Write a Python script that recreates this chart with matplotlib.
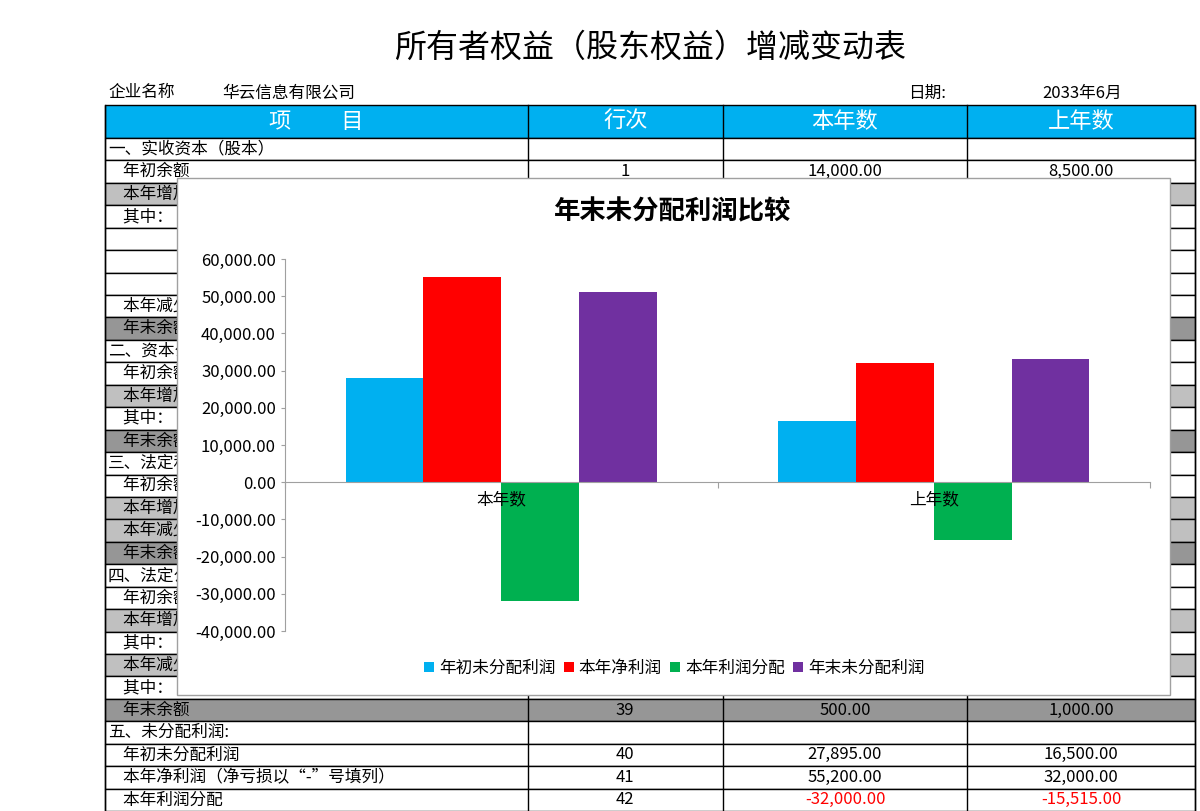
import numpy as np
import matplotlib.pyplot as plt
from matplotlib.patches import Rectangle

plt.rcParams['font.family'] = ['Noto Sans CJK SC', 'DejaVu Sans']

# chart data
categories = ['本年数', '上年数']
series_names = ['年初未分配利润', '本年净利润', '本年利润分配', '年末未分配利润']
series_values = [
    [27895, 16500],
    [55200, 32000],
    [-32000, -15515],
    [51095, 32985],
]
series_colors = ['#00B0F0', '#FF0000', '#00B050', '#7030A0']
yticks = [-40000, -30000, -20000, -10000, 0, 10000, 20000, 30000, 40000, 50000, 60000]

# table rows behind the chart: label, row no, this year, last year, fill
rows = [
    ('一、实收资本（股本）', '', '', '', 'w'),
    ('    年初余额', '1', '14,000.00', '8,500.00', 'w'),
    ('    本年增加额', '', '', '', 'l'),
    ('    其中：', '', '', '', 'w'),
    ('', '', '', '', 'w'),
    ('', '', '', '', 'w'),
    ('', '', '', '', 'w'),
    ('    本年减少额', '', '', '', 'w'),
    ('    年末余额', '', '', '', 'd'),
    ('二、资本公积', '', '', '', 'w'),
    ('    年初余额', '', '', '', 'w'),
    ('    本年增加额', '', '', '', 'l'),
    ('    其中：', '', '', '', 'w'),
    ('    年末余额', '', '', '', 'd'),
    ('三、法定和任意盈余公积', '', '', '', 'w'),
    ('    年初余额', '', '', '', 'w'),
    ('    本年增加额', '', '', '', 'l'),
    ('    本年减少额', '', '', '', 'l'),
    ('    年末余额', '', '', '', 'd'),
    ('四、法定公益金', '', '', '', 'w'),
    ('    年初余额', '', '', '', 'w'),
    ('    本年增加额', '', '', '', 'l'),
    ('    其中：', '', '', '', 'w'),
    ('    本年减少额', '', '', '', 'l'),
    ('    其中：', '', '', '', 'w'),
    ('    年末余额', '39', '500.00', '1,000.00', 'd'),
    ('五、未分配利润:', '', '', '', 'w'),
    ('    年初未分配利润', '40', '27,895.00', '16,500.00', 'w'),
    ('    本年净利润（净亏损以“-”号填列）', '41', '55,200.00', '32,000.00', 'w'),
    ('    本年利润分配', '42', '-32,000.00', '-15,515.00', 'w'),
]
fills = {'w': 'white', 'l': '#C0C0C0', 'd': '#969696'}

fig = plt.figure(figsize=(12, 8.11), dpi=100)
bg = fig.add_axes([0, 0, 1, 1])
bg.set_xlim(0, 1200)
bg.set_ylim(811, 0)
bg.axis('off')

bg.text(650, 48, '所有者权益（股东权益）增减变动表', fontsize=23, ha='center', va='center')
bg.text(108, 93, '企业名称', fontsize=12, va='center')
bg.text(222, 93, '华云信息有限公司', fontsize=12, va='center')
bg.text(908, 93, '日期:', fontsize=12, va='center')
bg.text(1082, 93, '2033年6月', fontsize=12, va='center', ha='center')

cols = [105, 528, 723, 967, 1195]
bg.add_patch(Rectangle((105, 105), 1090, 33, facecolor='#00B0F0', edgecolor='black', lw=1))
for i, h in enumerate(['项          目', '行次', '本年数', '上年数']):
    bg.text((cols[i] + cols[i + 1]) / 2, 121.5, h, fontsize=16, color='white',
            ha='center', va='center')
rh = (811 - 138) / len(rows)
for r, (lab, no, v1, v2, f) in enumerate(rows):
    y0 = 138 + r * rh
    bg.add_patch(Rectangle((105, y0), 1090, rh, facecolor=fills[f], edgecolor='black', lw=1))
    yc = y0 + rh / 2
    bg.text(108, yc, lab, fontsize=12, va='center')
    bg.text(625, yc, no, fontsize=12, va='center', ha='center')
    c1 = 'red' if v1.startswith('-') else 'black'
    c2 = 'red' if v2.startswith('-') else 'black'
    bg.text(845, yc, v1, fontsize=12, va='center', ha='center', color=c1)
    bg.text(1081, yc, v2, fontsize=12, va='center', ha='center', color=c2)
for x in cols:
    bg.plot([x, x], [105, 811], color='black', lw=1)

# chart box
bg.add_patch(Rectangle((177, 178), 993, 517, facecolor='white', edgecolor='#A0A0A0', lw=1, zorder=5))
bg.text(673, 212, '年末未分配利润比较', fontsize=19, fontweight='bold', ha='center', va='center', zorder=6)

ax = fig.add_axes([285 / 1200, 1 - 631 / 811, 865 / 1200, 372 / 811])
ax.set_facecolor('none')
x = np.arange(len(categories))
w = 0.18
for k in range(4):
    ax.bar(x + (k - 1.5) * w, series_values[k], w, color=series_colors[k], label=series_names[k])
ax.set_xlim(-0.5, 1.5)
ax.set_ylim(-40000, 60000)
ax.set_yticks(yticks)
ax.set_yticklabels([f'{v:,.2f}' for v in yticks], fontsize=12)
ax.tick_params(axis='y', length=3, color='#A0A0A0')
ax.spines['top'].set_visible(False)
ax.spines['right'].set_visible(False)
ax.spines['bottom'].set_position(('data', 0))
ax.spines['bottom'].set_color('#A0A0A0')
ax.spines['left'].set_color('#A0A0A0')
ax.set_xticks([-0.5, 0.5, 1.5])
ax.set_xticklabels([])
ax.tick_params(axis='x', length=4, color='#A0A0A0', direction='out')
for i, c in enumerate(categories):
    ax.text(i, -2500, c, fontsize=12, ha='center', va='top')
ax.legend(loc='center', bbox_to_anchor=(0.45, -0.1), ncol=4, frameon=False, fontsize=12,
          handlelength=0.6, handleheight=0.6, handletextpad=0.3, columnspacing=0.5)

fig.savefig('out.png', dpi=100)
